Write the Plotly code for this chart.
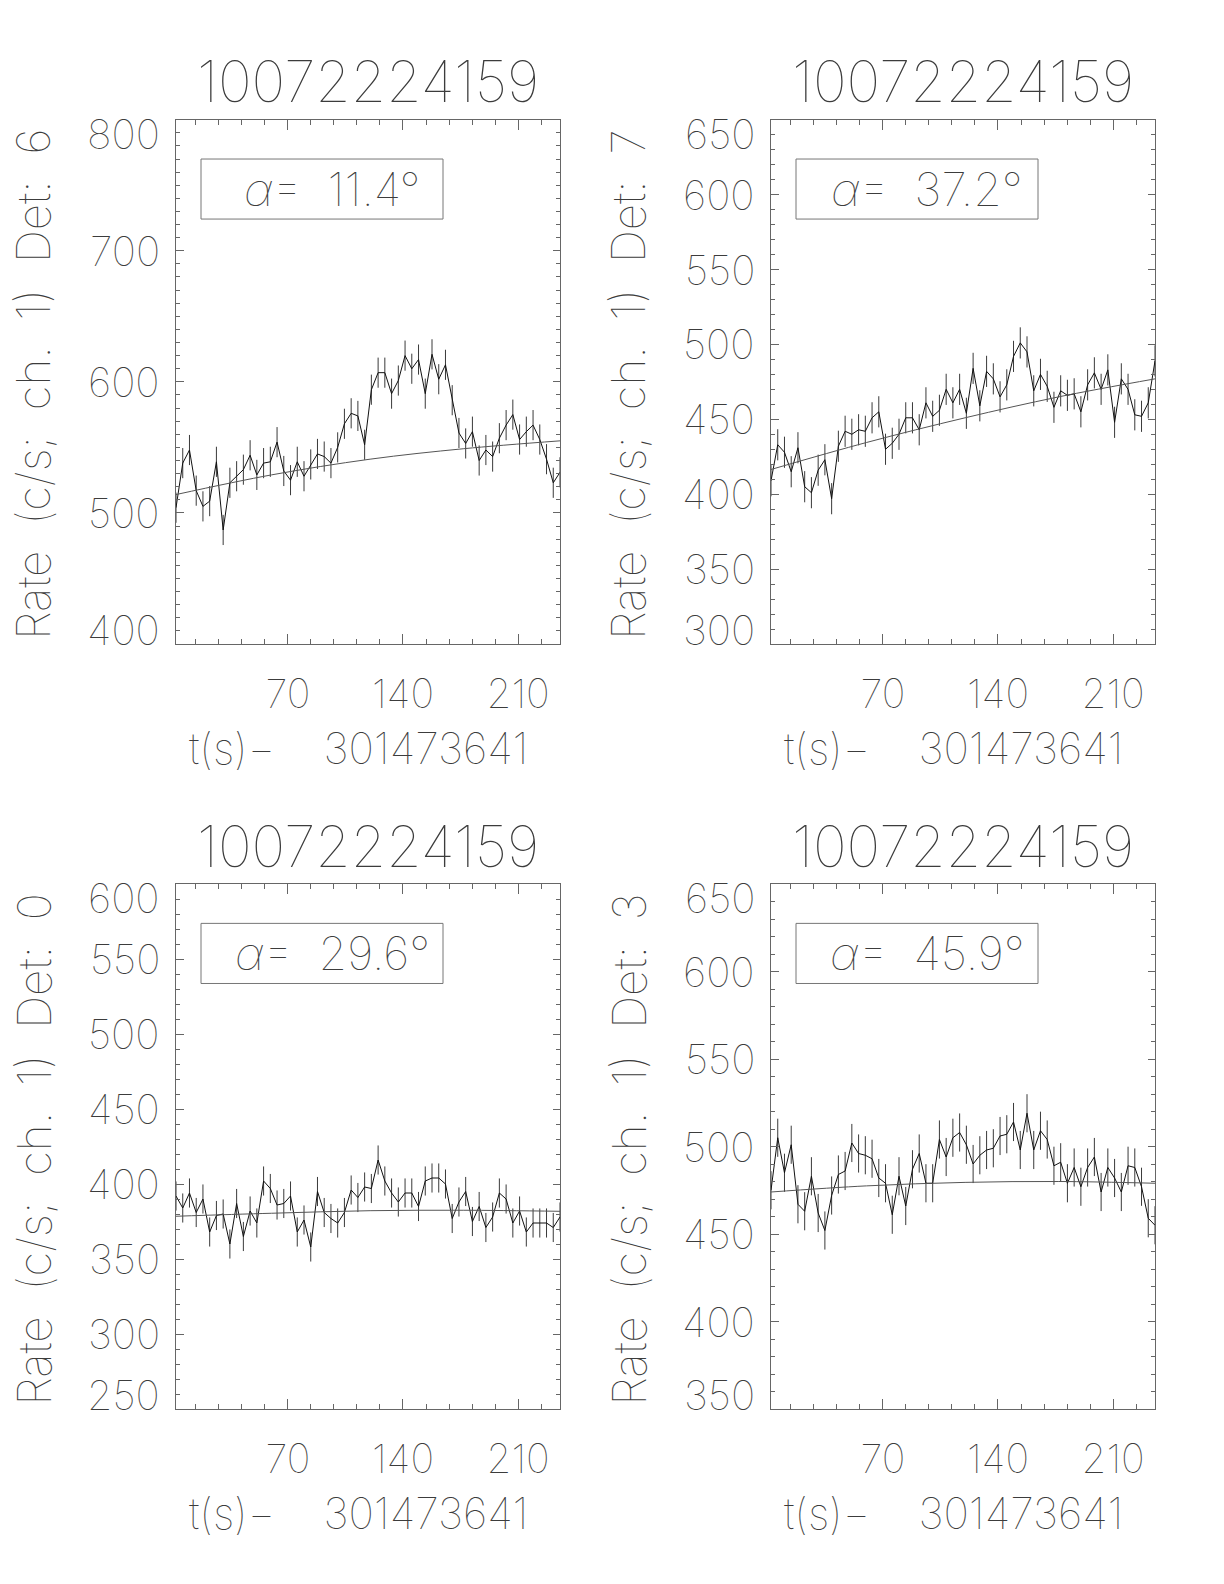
import numpy as np
import plotly.graph_objects as go

# ---------------- data
OBS_ID = "10072224159"
T_REF = "301473641"
T0 = 2.0          # first bin start (s after T_REF)
TBIN = 4.096      # bin width (s)

det_names = ["6", "7", "0", "3"]
alphas = ["11.4", "37.2", "29.6", "45.9"]

rate_det6 = [504, 538, 548, 517, 505, 509, 539, 487, 523, 528,
             533, 544, 529, 538, 539, 554, 532, 525, 539, 528,
             537, 545, 543, 538, 550, 568, 576, 574, 552, 594,
             607, 607, 591, 601, 620, 610, 617, 591, 621, 602,
             613, 586, 561, 553, 562, 540, 548, 543, 557, 567,
             575, 556, 562, 567, 556, 541, 523, 531]
rate_det7 = [409, 433, 428, 415, 431, 405, 401, 416, 423, 397,
             432, 442, 440, 443, 442, 451, 455, 430, 434, 440,
             451, 451, 443, 461, 452, 456, 470, 461, 470, 454,
             484, 459, 482, 477, 465, 473, 492, 501, 495, 469,
             480, 472, 458, 469, 466, 467, 455, 473, 481, 470,
             483, 448, 477, 470, 453, 452, 461, 489]
rate_det0 = [392, 384, 394, 381, 390, 368, 379, 380, 360, 387,
             365, 382, 374, 402, 397, 386, 387, 392, 368, 376,
             358, 395, 381, 377, 374, 381, 396, 391, 398, 397,
             416, 402, 394, 388, 394, 394, 385, 402, 404, 404,
             400, 377, 388, 395, 375, 385, 371, 378, 394, 390,
             374, 382, 368, 374, 374, 374, 371, 378]
rate_det3 = [475, 505, 485, 501, 467, 463, 483, 462, 452, 472,
             484, 486, 502, 496, 495, 493, 482, 479, 461, 483,
             466, 487, 496, 479, 479, 504, 494, 505, 508, 501,
             490, 495, 498, 499, 506, 507, 514, 498, 519, 498,
             509, 504, 489, 491, 479, 488, 477, 488, 494, 474,
             488, 482, 474, 489, 488, 477, 459, 455]

# 1-sigma error bar half-length per detector (c/s)
err_rate = [11.5, 10.4, 9.7, 10.9]

# background fit curve, sampled at a few times
fit_t = [2, 60, 120, 177, 235.5]
fit_det6 = [514, 529, 541, 549, 555]
fit_det7 = [416.5, 434.5, 451, 465, 477]
fit_det0 = [378.5, 380.5, 382.2, 382.5, 381.8]
fit_det3 = [474, 477.5, 479.5, 480, 479]

# y tick labels
yticks_det6 = [400, 500, 600, 700, 800]
yticks_det7 = [300, 350, 400, 450, 500, 550, 600, 650]
yticks_det0 = [250, 300, 350, 400, 450, 500, 550, 600]
yticks_det3 = [350, 400, 450, 500, 550, 600, 650]

rates = [rate_det6, rate_det7, rate_det0, rate_det3]
fits = [fit_det6, fit_det7, fit_det0, fit_det3]
yticks = [yticks_det6, yticks_det7, yticks_det0, yticks_det3]

# ---------------- layout
W, H = 1224, 1584
FONT = "Inter"
INK = "#3c3c3c"
AXC = "#666666"
SP = "\u00a0\u00a0"   # wide word gaps, like the stroke font

# plot-area domains (paper fractions)
xdoms = [(176 / W, 560 / W), (771 / W, 1155 / W)] * 2
ydoms = [(1 - 644 / H, 1 - 119.7 / H)] * 2 + [(1 - 1409 / H, 1 - 884 / H)] * 2

t = T0 + TBIN * np.arange(len(rate_det6))
xr = [T0, T0 + TBIN * (len(rate_det6) - 1)]


def tfont(size):
    return dict(family=FONT, size=size, color=INK, weight=100)


fig = go.Figure()
annotations = []
shapes = []

for i in range(4):
    xa = "x" if i == 0 else f"x{i + 1}"
    ya = "y" if i == 0 else f"y{i + 1}"
    xkey = "xaxis" if i == 0 else f"xaxis{i + 1}"
    ykey = "yaxis" if i == 0 else f"yaxis{i + 1}"

    fig.add_trace(go.Scatter(
        x=t, y=rates[i], xaxis=xa, yaxis=ya, mode="lines",
        line=dict(color="#111111", width=1),
        error_y=dict(type="constant", value=err_rate[i], color="#3a3a3a",
                     thickness=1, width=0),
        showlegend=False, hoverinfo="skip"))
    fig.add_trace(go.Scatter(
        x=fit_t, y=fits[i], xaxis=xa, yaxis=ya, mode="lines",
        line=dict(color="#555555", width=1, shape="spline"),
        showlegend=False, hoverinfo="skip"))

    yt = yticks[i]
    ystep = yt[1] - yt[0]
    fig.update_layout({
        xkey: dict(domain=list(xdoms[i]), anchor=ya, range=xr,
                   showgrid=False, zeroline=False, showline=True,
                   linecolor=AXC, linewidth=1, mirror="allticks",
                   ticks="inside", ticklen=10, tickcolor=AXC,
                   tickmode="linear", tick0=0, dtick=70,
                   ticklabelstandoff=15, tickfont=tfont(40),
                   minor=dict(ticks="inside", ticklen=5, dtick=14, tick0=0,
                              tickcolor=AXC, showgrid=False)),
        ykey: dict(domain=list(ydoms[i]), anchor=xa, range=[yt[0], yt[-1]],
                   showgrid=False, zeroline=False, showline=True,
                   linecolor=AXC, linewidth=1, mirror="allticks",
                   ticks="inside", ticklen=7.5, tickcolor=AXC,
                   tickmode="linear", tick0=0, dtick=ystep,
                   showticklabels=False,
                   minor=dict(ticks="inside", ticklen=3.8, dtick=10,
                              tickcolor=AXC, showgrid=False)),
    })

    xd = f"{xa} domain"
    yd = f"{ya} domain"
    # y tick labels: end labels kept inside the axis span
    for k, v in enumerate(yt):
        if k == len(yt) - 1:
            anchor, dy = "top", 13
        elif k == 0:
            anchor, dy = "bottom", -13
        else:
            anchor, dy = "middle", 0
        annotations.append(dict(
            text=str(v), x=0, xref=xd, y=v, yref=ya, xanchor="right",
            yanchor=anchor, xshift=-14, yshift=dy, showarrow=False,
            font=tfont(41)))
    # panel title
    annotations.append(dict(
        text=OBS_ID, x=0.5, xref=xd, y=1, yref=yd, yanchor="middle",
        yshift=38, showarrow=False, font=tfont(57)))
    # x title
    annotations.append(dict(
        text=f"t(s)\u2212{SP}{SP}{T_REF}", x=0.5, xref=xd, y=0, yref=yd,
        yanchor="middle", xshift=-10, yshift=-104, showarrow=False,
        font=tfont(43)))
    # y title
    ytitle = SP.join(["Rate", "(c/s;", "ch.", "1)", "Det:", det_names[i]])
    annotations.append(dict(
        text=ytitle, x=0, xref=xd, y=0.5, yref=yd, xanchor="center",
        yanchor="middle", xshift=-143, yshift=-3, textangle=-90,
        showarrow=False, font=tfont(46)))
    # alpha box
    shapes.append(dict(type="rect", xref=xd, yref=yd, x0=25 / 384, x1=267 / 384,
                       y0=0.8105, y1=0.925, line=dict(color="#777777", width=1)))
    annotations.append(dict(
        text=f"<i>\u03b1</i>={SP}{alphas[i]}\u00b0", x=146 / 384, xref=xd,
        y=0.868, yref=yd, xanchor="center", yanchor="middle", xshift=10,
        showarrow=False, font=tfont(46)))

fig.update_layout(
    width=W, height=H, margin=dict(l=0, r=0, t=0, b=0),
    paper_bgcolor="white", plot_bgcolor="white",
    annotations=annotations, shapes=shapes,
)

# drop the default page margin so the figure sits at the window origin
fig.write_html("out.html", config={"displayModeBar": False},
               post_script="document.body.style.margin='0';")
